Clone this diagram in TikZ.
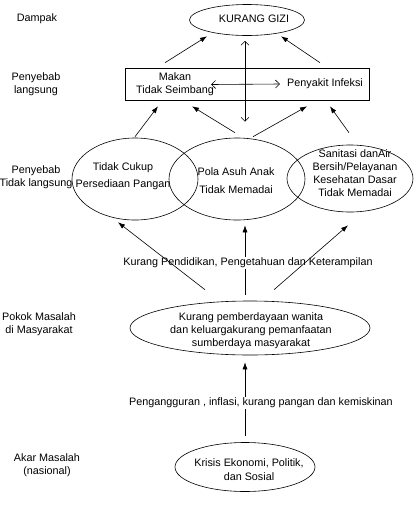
\documentclass[tikz,border=0pt]{standalone}
\usepackage{fontspec}
\setmainfont{Liberation Sans}
\usetikzlibrary{shapes.geometric,arrows.meta,calc}

\tikzset{
  oval/.style={draw, ellipse, inner sep=0pt},
  tulis/.style={align=center, inner sep=1pt},
  panah/.style={-{Latex[length=7pt,width=5pt]}},
  dua/.style={{Straight Barb[length=4pt,width=8pt]}-{Straight Barb[length=4pt,width=8pt]}},
}

\begin{document}
\begin{tikzpicture}[x=1pt,y=-1pt,line width=0.6pt,font=\fontsize{10.8}{13}\selectfont]
    \useasboundingbox (0,0) rectangle (413,512);
    % label kiri
    \node[tulis] (dampak) at (37,19) {Dampak};
    \node[tulis] (langsung) at (36,84.5) {Penyebab\\langsung};
    \node[tulis] (tdklangsung) at (36,177) {Penyebab\\Tidak langsung};
    \node[tulis] (pokoklbl) at (39,324.5) {Pokok Masalah\\di Masyarakat};
    \node[tulis] (akarlbl) at (47,465.5) {Akar Masalah\\(nasional)};

    % dampak
    \node[oval, minimum width=115, minimum height=31] (gizi) at (247,20) {};
    \node[tulis] (gizitxt) at (254,19) {KURANG GIZI};

    % penyebab langsung
    \node[draw, minimum width=244, minimum height=32] (box) at (247,84) {};
    \node[tulis] (makan) at (175,84.5) {Makan\\Tidak Seimbang};
    \node[tulis] (infeksi) at (325,84) {Penyakit Infeksi};

    % penyebab tidak langsung
    \node[oval, minimum width=126, minimum height=82] (cukup) at (135,179) {};
    \node[tulis] (cukuptxt) at (123,176.5) {Tidak Cukup\\[4pt]Persediaan Pangan};
    \node[oval, minimum width=136, minimum height=82] (asuh) at (237,179) {};
    \node[tulis] (asuhtxt) at (236,181) {Pola Asuh Anak\\[5pt]Tidak Memadai};
    \node[oval, minimum width=126, minimum height=67] (sanitasi) at (350,178.5) {};
    \node[tulis] (sanitasitxt) at (355,173.5) {Sanitasi danAir\\Bersih/Pelayanan\\Kesehatan Dasar\\Tidak Memadai};

    % pokok masalah
    \node[oval, minimum width=240, minimum height=54] (pokok) at (250,328) {};
    \node[tulis] (pokoktxt) at (251,330.5) {Kurang pemberdayaan wanita\\dan keluargakurang pemanfaatan\\sumberdaya masyarakat};

    % akar masalah
    \node[oval, minimum width=140, minimum height=49] (akar) at (245,467) {};
    \node[tulis] (akartxt) at (249,470) {Krisis Ekonomi, Politik,\\[1pt]dan Sosial};

    % panah
    \draw[panah] ($(box.north)+(-82,-5)$) -- ($(gizi.south)+(-40,0.5)$);
    \draw[panah] ($(box.north)+(73,-5)$) -- ($(gizi.south)+(34,0.5)$);
    \draw[dua] ($(gizi.south)+(-2,5)$) -- ($(asuh.north)+(8,-16)$);
    \draw[dua] ($(makan.east)+(-4,0)$) -- ($(infeksi.west)+(-6,0)$);
    \draw[panah] ($(cukup.north)+(0,-1)$) -- ($(box.south)+(-89,6)$);
    \draw[panah] ($(asuh.north)+(-2,-5)$) -- ($(box.south)+(-55,6)$);
    \draw[panah] ($(asuh.north)+(16,-1)$) -- ($(box.south)+(60,6)$);
    \draw[panah] ($(sanitasi.north)+(-1,-12)$) -- ($(box.south)+(83,6)$);

    \draw[panah] ($(pokok.north)+(-5,-6)$) -- ($(asuh.south)+(8,5)$);
    \node[tulis, fill=white] (didik) at (248,263) {Kurang Pendidikan, Pengetahuan dan Keterampilan};
    \draw[panah] ($(pokok.north)+(-45,-11)$) -- ($(cukup.south)+(-17,2)$);
    \draw[panah] ($(pokok.north)+(24,-11)$) -- ($(sanitasi.south)+(-2,13)$);

    \draw[panah] ($(akar.north)+(0,-6)$) -- ($(pokok.south)+(-5,7)$);
    \node[tulis, fill=white] (miskin) at (261,403) {Pengangguran , inflasi, kurang pangan dan kemiskinan};
\end{tikzpicture}
\end{document}
